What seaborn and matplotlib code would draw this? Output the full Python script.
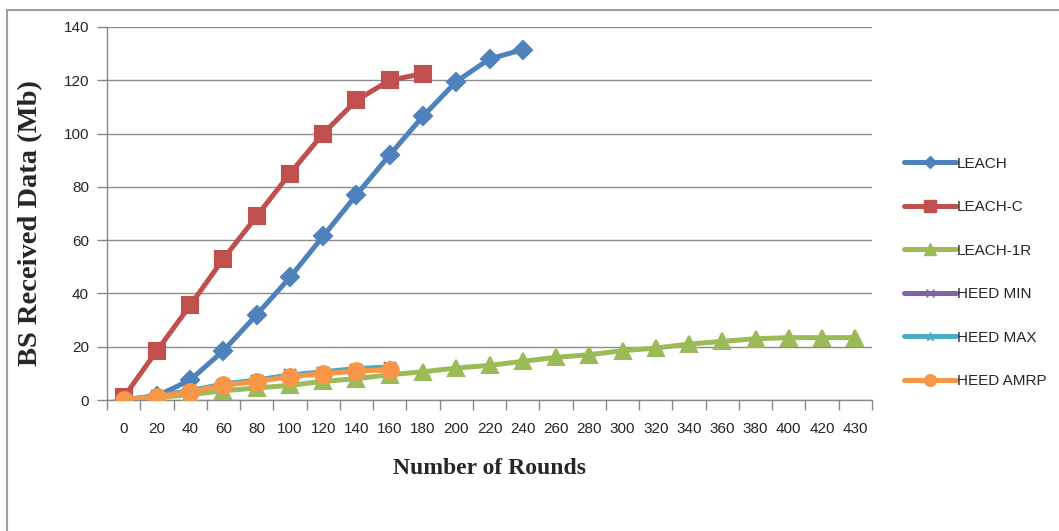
import pandas as pd
import seaborn as sns
import matplotlib.pyplot as plt
from matplotlib.lines import Line2D

# ---------------------------
# Data
# ---------------------------
rounds = ["0", "20", "40", "60", "80", "100", "120", "140", "160", "180", "200",
          "220", "240", "260", "280", "300", "320", "340", "360", "380", "400",
          "420", "430"]

leach = [0, 1.5, 7.5, 18.5, 32, 46, 61.5, 77, 92, 106.5, 119.5, 128, 131.5]
leach_c = [1, 18.5, 35.5, 53, 69, 85, 100, 112.5, 120, 122.5]
leach_1r = [0, 1, 2, 3.5, 4.5, 5.5, 7, 8, 9.5, 10.6, 12, 13, 14.5, 16, 17,
            18.5, 19.5, 21, 22, 23, 23.4, 23.4, 23.4]
heed_min = [0, 1.5, 3.4, 5.8, 7.3, 9.2, 10.3, 11.4, 12]
heed_max = [0, 1.6, 3.5, 6, 7.5, 9.4, 10.6, 11.8, 12.4]
heed_amrp = [0, 1.2, 3.1, 5.6, 6.9, 8.8, 9.8, 10.9, 11.3]

series = [
    ("LEACH", leach, "#4F81BD", "D", 9),
    ("LEACH-C", leach_c, "#C0504D", "s", 12),
    ("LEACH-1R", leach_1r, "#9BBB59", "^", 12),
    ("HEED MIN", heed_min, "#8064A2", "x", 8),
    ("HEED MAX", heed_max, "#4BACC6", "*", 9),
    ("HEED AMRP", heed_amrp, "#F79646", "o", 12),
]

sns.set_style("white")
tick_font = ["Liberation Sans Narrow", "Liberation Sans", "DejaVu Sans"]
label_font = ["Liberation Serif", "DejaVu Serif"]

fig = plt.figure(figsize=(10.59, 5.31), dpi=100)
ax = fig.add_axes([107 / 1059, 1 - 400 / 531, (872 - 107) / 1059, (400 - 27) / 531])

handles = []
for name, vals, color, marker, ms in series:
    df = pd.DataFrame({"pos": range(len(vals)), "val": vals})
    sns.lineplot(data=df, x="pos", y="val", ax=ax, color=color, lw=3.6,
                 marker=marker, markersize=ms, markeredgecolor=color,
                 markeredgewidth=1.5, legend=False, zorder=3)
    handles.append(Line2D([0], [0], color=color, lw=3.6, marker=marker,
                          markersize=ms * 0.7, markeredgecolor=color,
                          label=name))

ax.set_xlim(-0.5, len(rounds) - 0.5)
ax.set_ylim(0, 140)
ax.set_yticks(range(0, 141, 20))
ax.set_xticks([i - 0.5 for i in range(len(rounds) + 1)], minor=False)
ax.set_xticklabels([])
ax.set_xticks(range(len(rounds)), minor=True)
ax.set_xticklabels(rounds, minor=True, fontfamily=tick_font, fontsize=11)
ax.tick_params(axis="x", which="major", length=7, color="#888888", width=1,
               direction="out", bottom=True)
ax.tick_params(axis="x", which="minor", length=0, pad=16)
ax.tick_params(axis="y", length=7, color="#888888", width=1, direction="out",
               left=True, pad=6)
for lbl in ax.get_yticklabels():
    lbl.set_fontfamily(tick_font)
    lbl.set_fontsize(11)

ax.grid(axis="y", color="#8c8c8c", lw=1)
ax.set_axisbelow(True)
for s in ["top", "right"]:
    ax.spines[s].set_visible(False)
for s in ["left", "bottom"]:
    ax.spines[s].set_color("#888888")
    ax.spines[s].set_linewidth(1)

ax.set_xlabel("Number of Rounds", fontfamily=label_font, fontweight="bold",
              fontsize=17, labelpad=16)
ax.set_ylabel("BS Received Data (Mb)", fontfamily=label_font, fontweight="bold",
              fontsize=20.5)
ax.yaxis.set_label_coords(-0.083, 0.474)

leg = fig.legend(handles=handles, loc="upper left",
                 bbox_to_anchor=(890 / 1059, 1 - 143 / 531), frameon=False,
                 handlelength=3.4, handletextpad=0.1, labelspacing=1.93,
                 prop={"family": tick_font, "size": 11})

# outer chart border (top and left edges visible)
fig.add_artist(Line2D([7 / 1059, 1], [1 - 10 / 531, 1 - 10 / 531],
                      color="#a0a0a0", lw=1.5))
fig.add_artist(Line2D([7 / 1059, 7 / 1059], [0, 1 - 10 / 531],
                      color="#a0a0a0", lw=1.5))

fig.savefig("out.png", dpi=100)
